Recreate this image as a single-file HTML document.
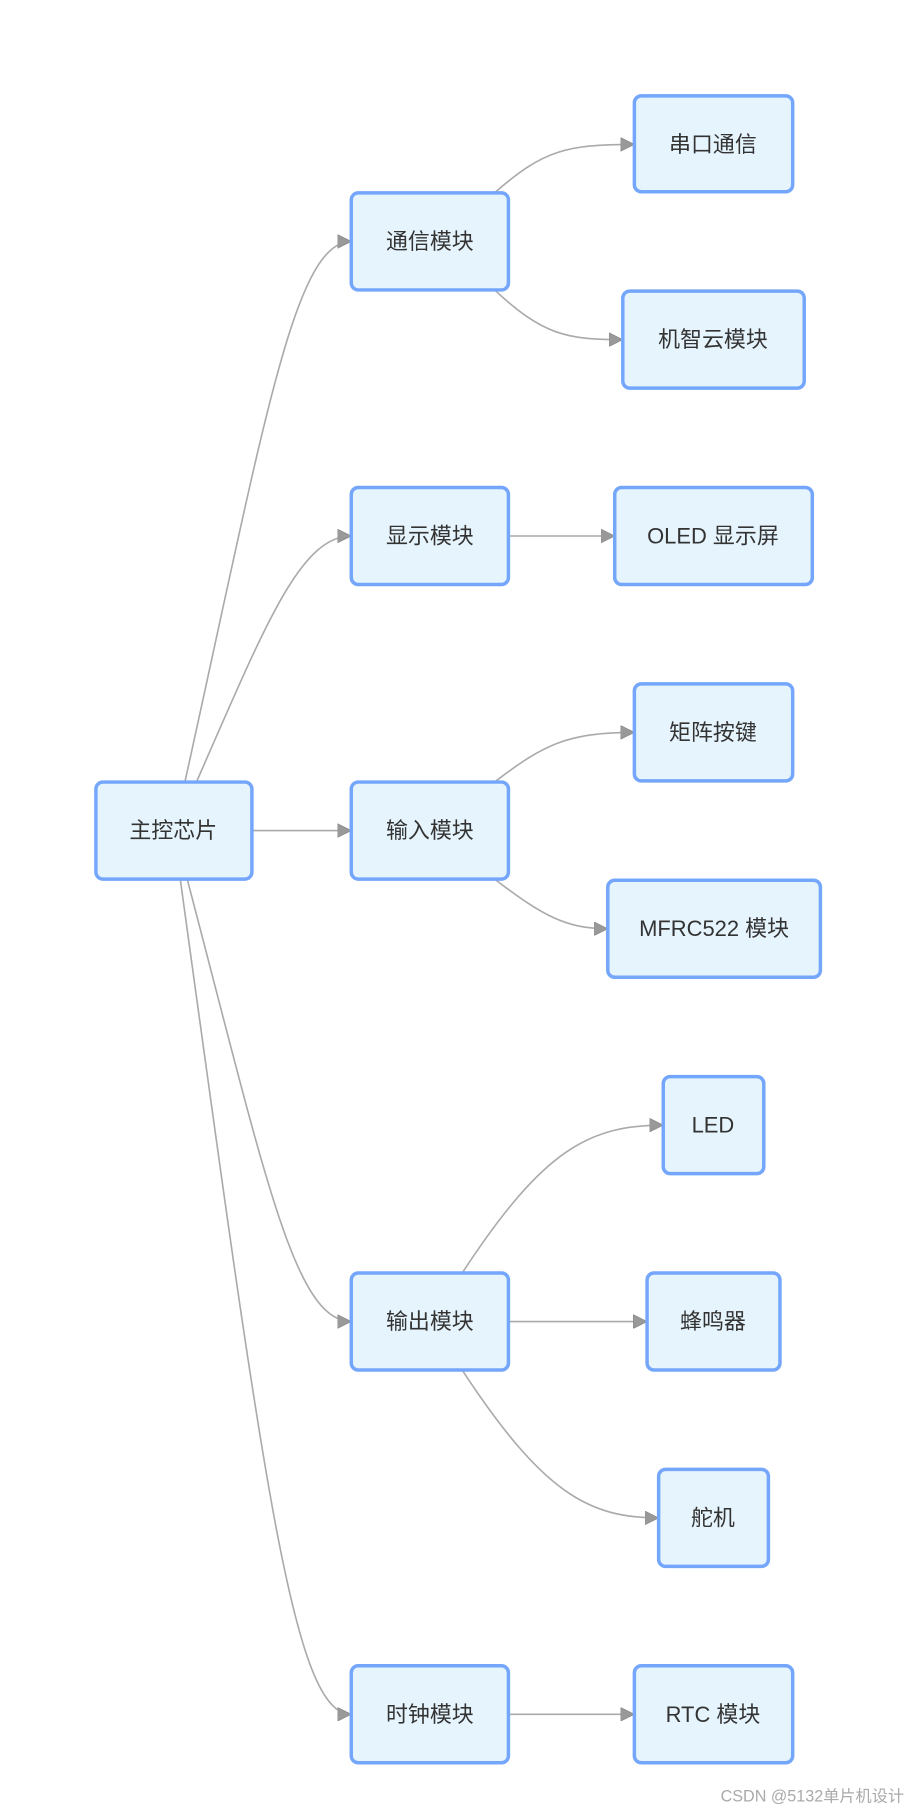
<!DOCTYPE html>
<html><head><meta charset="utf-8"><style>
html,body{margin:0;padding:0;background:#fff;}
svg{display:block;}
text{font-family:"Liberation Sans","Noto Sans CJK SC",sans-serif;font-size:19px;fill:#333;text-anchor:middle;dominant-baseline:central;}
</style></head><body>
<svg width="914" height="1809" viewBox="0 0 791 1566" preserveAspectRatio="none" xmlns="http://www.w3.org/2000/svg">
<defs><marker id="a" viewBox="0 0 10 10" refX="10" refY="5" markerWidth="12" markerHeight="12" markerUnits="userSpaceOnUse" orient="auto"><path d="M0,0 L10,5 L0,10 z" fill="#999" stroke="#888" stroke-width="0.5"/></marker></defs>
<g fill="none" stroke="#aaa" stroke-width="1.4" marker-end="url(#a)">
<path d="M160,677 C230,360 255,209 304,209"/>
<path d="M170,677 C230,540 260,464 304,464"/>
<path d="M218,719 L304,719"/>
<path d="M162,761 C230,1020 255,1144 304,1144"/>
<path d="M156,761 C230,1300 255,1484 304,1484"/>
<path d="M428,167 C470,130 490,125 549,125"/>
<path d="M428,251 C470,290 490,294 539,294"/>
<path d="M440,464 L532,464"/>
<path d="M428,677 C470,645 490,634 549,634"/>
<path d="M428,761 C470,793 490,804 526,804"/>
<path d="M400,1102 C470,995 510,974 574,974"/>
<path d="M440,1144 L560,1144"/>
<path d="M400,1186 C470,1293 510,1314 570,1314"/>
<path d="M440,1484 L549,1484"/>
</g>
<g fill="#e6f4fd" stroke="#74a6fb" stroke-width="3">
<rect x="83" y="677" width="135" height="84" rx="6"/>
<rect x="304" y="167" width="136" height="84" rx="6"/>
<rect x="304" y="422" width="136" height="84" rx="6"/>
<rect x="304" y="677" width="136" height="84" rx="6"/>
<rect x="304" y="1102" width="136" height="84" rx="6"/>
<rect x="304" y="1442" width="136" height="84" rx="6"/>
<rect x="549" y="83" width="137" height="83" rx="6"/>
<rect x="539" y="252" width="157" height="84" rx="6"/>
<rect x="532" y="422" width="171" height="84" rx="6"/>
<rect x="549" y="592" width="137" height="84" rx="6"/>
<rect x="526" y="762" width="184" height="84" rx="6"/>
<rect x="574" y="932" width="87" height="84" rx="6"/>
<rect x="560" y="1102" width="115" height="84" rx="6"/>
<rect x="570" y="1272" width="95" height="84" rx="6"/>
<rect x="549" y="1442" width="137" height="84" rx="6"/>
</g>
<text x="150" y="719">主控芯片</text>
<text x="372" y="209">通信模块</text>
<text x="372" y="464">显示模块</text>
<text x="372" y="719">输入模块</text>
<text x="372" y="1144">输出模块</text>
<text x="372" y="1484">时钟模块</text>
<text x="617" y="125">串口通信</text>
<text x="617" y="294">机智云模块</text>
<text x="617" y="464">OLED 显示屏</text>
<text x="617" y="634">矩阵按键</text>
<text x="618" y="804">MFRC522 模块</text>
<text x="617" y="974">LED</text>
<text x="617" y="1144">蜂鸣器</text>
<text x="617" y="1314">舵机</text>
<text x="617" y="1484">RTC 模块</text>
<text x="703" y="1555" style="font-size:14px;fill:#aaa;">CSDN @5132单片机设计</text>
</svg>
</body></html>
